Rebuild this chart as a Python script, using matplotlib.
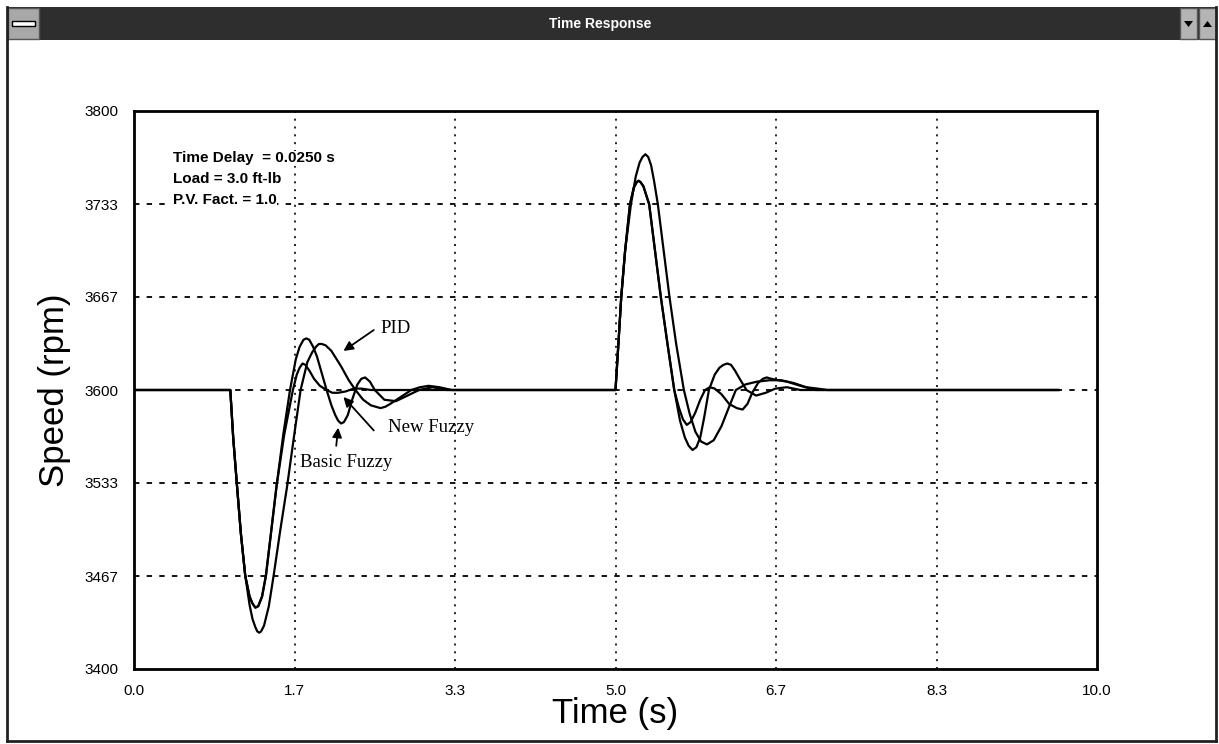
import matplotlib
matplotlib.use('Agg')
import matplotlib.pyplot as plt
from matplotlib.patches import Rectangle, Polygon
from matplotlib.lines import Line2D

# ---- data ----
pid_t = [0.0, 1.0, 1.03, 1.07, 1.11, 1.155, 1.20, 1.23, 1.26, 1.28, 1.30, 1.32,
         1.35, 1.40, 1.45, 1.52, 1.59, 1.66, 1.73, 1.80, 1.85, 1.89, 1.92, 1.95,
         1.99, 2.05, 2.15, 2.23, 2.30, 2.38, 2.46, 2.51, 2.56, 2.61, 2.66, 2.77,
         2.88, 2.97, 3.06, 3.17, 3.30,
         5.0, 5.03, 5.06, 5.10, 5.16, 5.21, 5.25, 5.28, 5.31, 5.34, 5.37, 5.40,
         5.44, 5.50, 5.56, 5.63, 5.71, 5.77, 5.83, 5.89, 5.95, 6.02, 6.10, 6.18,
         6.25, 6.35, 6.47, 6.60, 6.72, 6.85, 6.98, 7.10, 7.20, 9.6]
pid_s = [3600, 3600, 3566, 3531, 3497, 3467, 3446, 3436, 3430, 3427, 3426, 3427,
         3431, 3445, 3467, 3500, 3531, 3566, 3600, 3620, 3627, 3631, 3633, 3633,
         3632, 3628, 3617, 3607, 3600, 3593, 3589, 3588, 3587, 3588, 3590, 3595,
         3600, 3602, 3603, 3602, 3600,
         3600, 3633, 3667, 3700, 3733, 3753, 3763, 3767, 3769, 3767, 3761, 3750,
         3733, 3700, 3667, 3633, 3600, 3583, 3570, 3563, 3561, 3564, 3574, 3588,
         3600, 3604, 3606, 3607, 3607, 3605, 3602, 3601, 3600, 3600]

basic_t = [0.0, 1.0, 1.03, 1.07, 1.11, 1.155, 1.20, 1.23, 1.26, 1.29, 1.33, 1.37,
           1.42, 1.48, 1.55, 1.62, 1.68, 1.72, 1.76, 1.79, 1.82, 1.86, 1.90, 1.95,
           2.00, 2.05, 2.09, 2.12, 2.15, 2.18, 2.22, 2.27, 2.32, 2.36, 2.40, 2.45,
           2.50, 2.60, 2.72, 2.84, 2.96, 3.10, 3.25,
           5.0, 5.03, 5.06, 5.10, 5.15, 5.19, 5.22, 5.24, 5.26, 5.29, 5.35, 5.41,
           5.47, 5.54, 5.61, 5.67, 5.72, 5.76, 5.80, 5.84, 5.88, 5.92, 5.97, 6.03,
           6.08, 6.12, 6.16, 6.20, 6.24, 6.29, 6.36, 6.46, 6.56, 6.66, 6.78, 6.92, 9.6]
basic_s = [3600, 3600, 3566, 3531, 3497, 3467, 3452, 3447, 3444, 3445, 3452, 3467,
           3496, 3531, 3568, 3600, 3622, 3631, 3636, 3637, 3636, 3631, 3624, 3612,
           3600, 3589, 3582, 3578, 3576, 3577, 3582, 3594, 3604, 3608, 3609, 3606,
           3600, 3593, 3592, 3596, 3600, 3602, 3600,
           3600, 3633, 3667, 3700, 3733, 3745, 3749, 3750, 3749, 3746, 3733, 3700,
           3667, 3633, 3600, 3578, 3566, 3560, 3557, 3559, 3566, 3580, 3600, 3611,
           3616, 3618, 3619, 3618, 3614, 3608, 3600, 3596, 3598, 3601, 3602, 3600, 3600]

new_t = [0.0, 1.0, 1.03, 1.07, 1.11, 1.155, 1.20, 1.23, 1.26, 1.29, 1.33, 1.37,
         1.42, 1.48, 1.56, 1.65, 1.69, 1.72, 1.75, 1.78, 1.82, 1.87, 1.93, 2.00,
         2.06, 2.12, 2.20, 2.28, 2.36, 2.46, 2.60,
         5.0, 5.03, 5.06, 5.10, 5.15, 5.19, 5.22, 5.24, 5.26, 5.29, 5.35, 5.41,
         5.47, 5.54, 5.61, 5.66, 5.70, 5.74, 5.78, 5.83, 5.88, 5.93, 5.98, 6.03,
         6.10, 6.18, 6.26, 6.32, 6.37, 6.42, 6.48, 6.53, 6.57, 6.62, 6.69, 6.78,
         6.92, 7.08, 9.6]
new_s = [3600, 3600, 3566, 3531, 3497, 3467, 3452, 3447, 3444, 3445, 3452, 3467,
         3496, 3531, 3568, 3600, 3611, 3616, 3619, 3618, 3614, 3608, 3603, 3600,
         3598, 3598, 3599, 3601, 3601, 3600, 3600,
         3600, 3633, 3667, 3700, 3733, 3745, 3749, 3750, 3749, 3746, 3733, 3700,
         3667, 3633, 3600, 3587, 3579, 3575, 3577, 3584, 3593, 3600, 3602, 3601,
         3597, 3590, 3587, 3586, 3590, 3598, 3605, 3608, 3609, 3608, 3607, 3606,
         3603, 3600, 3600]

x_ticks = [0.0, 10 / 6, 20 / 6, 5.0, 40 / 6, 50 / 6, 10.0]
x_labels = ['0.0', '1.7', '3.3', '5.0', '6.7', '8.3', '10.0']
y_ticks = [3400 + k * 200 / 3 for k in range(7)]
y_labels = ['3400', '3467', '3533', '3600', '3667', '3733', '3800']

info_lines = ['Time Delay  = 0.0250 s', 'Load = 3.0 ft-lb', 'P.V. Fact. = 1.0']

W, H = 1219, 744
fig = plt.figure(figsize=(W / 100, H / 100), dpi=100)
fig.patch.set_facecolor('white')


def fx(px):
    return px / W


def fy(py):
    return 1 - py / H


# ---- window frame ----
fig.add_artist(Rectangle((fx(7), fy(40)), fx(1209), 33 / H, transform=fig.transFigure,
                         facecolor='#2e2e2e', edgecolor='none'))
fig.add_artist(Rectangle((fx(8), fy(39)), fx(31), 31 / H, transform=fig.transFigure,
                         facecolor='#a8a8a8', edgecolor='#555555', lw=1))
fig.add_artist(Rectangle((fx(12), fy(26)), fx(23), 5 / H, transform=fig.transFigure,
                         facecolor='white', edgecolor='black', lw=1))
for bx in (1180, 1199):
    fig.add_artist(Rectangle((fx(bx), fy(39)), fx(17), 31 / H, transform=fig.transFigure,
                             facecolor='#b4b4b4', edgecolor='#555555', lw=1))
fig.add_artist(Polygon([(fx(1184), fy(21)), (fx(1193), fy(21)), (fx(1188.5), fy(27))],
                       transform=fig.transFigure, facecolor='black'))
fig.add_artist(Polygon([(fx(1203), fy(27)), (fx(1212), fy(27)), (fx(1207.5), fy(21))],
                       transform=fig.transFigure, facecolor='black'))
for xs, ys in [([7, 7], [7, 741]), ([1216, 1216], [7, 741]), ([7, 1216], [741, 741])]:
    fig.add_artist(Line2D([fx(v) for v in xs], [fy(v) for v in ys],
                          transform=fig.transFigure, color='#222222', lw=2))
fig.text(fx(600), fy(24), 'Time Response', color='white', fontsize=10,
         fontweight='bold', family='Liberation Sans', ha='center', va='center')

# ---- plot ----
ax = fig.add_axes([fx(134), fy(669), fx(1097 - 134), (669 - 111) / H])
ax.set_xlim(0, 10)
ax.set_ylim(3400, 3800)

for t, s in [(pid_t, pid_s), (basic_t, basic_s), (new_t, new_s)]:
    ax.plot(t, s, color='black', lw=1.6, zorder=3, solid_joinstyle='round')

for v in x_ticks[1:-1]:
    ax.axvline(v, color='black', lw=1.2, ls=(0, (1.2, 3.5)), zorder=1)
for v in y_ticks[1:-1]:
    ax.axhline(v, color='black', lw=1.3, ls=(0, (3, 4)), zorder=1)

ax.set_xticks(x_ticks)
ax.set_xticklabels(x_labels)
ax.set_yticks(y_ticks)
ax.set_yticklabels(y_labels)
ax.tick_params(length=0, labelsize=11)
ax.tick_params(axis='x', pad=11)
ax.tick_params(axis='y', pad=11)
for lab in ax.get_xticklabels() + ax.get_yticklabels():
    lab.set_family('Liberation Sans')
for sp in ax.spines.values():
    sp.set_linewidth(2)

ax.set_xlabel('Time (s)', fontsize=25, family='Liberation Sans', labelpad=-1)
ax.set_ylabel('Speed (rpm)', fontsize=25, family='Liberation Sans', labelpad=10)

for i, line in enumerate(info_lines):
    ax.text(0.4, 3766 - i * 15, line, fontsize=11, fontweight='bold',
            family='Liberation Sans', va='center', ha='left', zorder=4,
            bbox=dict(facecolor='white', edgecolor='none', pad=0.5))

arrow = dict(arrowstyle='-|>', color='black', lw=1.3, mutation_scale=14,
             shrinkA=0, shrinkB=0)
ax.annotate('', xy=(2.175, 3628), xytext=(2.49, 3643), arrowprops=arrow, zorder=5)
ax.annotate('', xy=(2.175, 3595), xytext=(2.49, 3571), arrowprops=arrow, zorder=5)
ax.annotate('', xy=(2.12, 3573), xytext=(2.10, 3560), arrowprops=arrow, zorder=5)
ax.text(2.56, 3644, 'PID', fontsize=13.5, family='Liberation Serif', va='center')
ax.text(2.64, 3573, 'New Fuzzy', fontsize=13.5, family='Liberation Serif', va='center')
ax.text(1.72, 3548, 'Basic Fuzzy', fontsize=13.5, family='Liberation Serif', va='center')

fig.savefig('out.png', dpi=100)
